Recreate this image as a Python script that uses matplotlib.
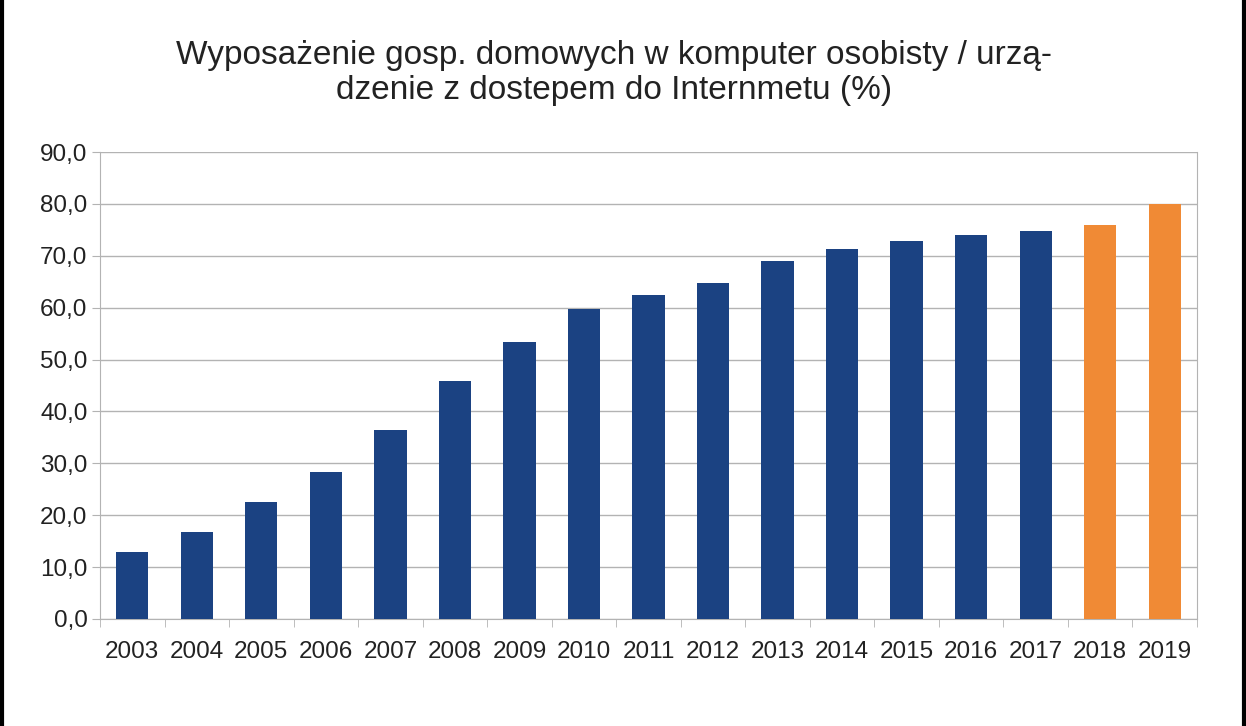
import matplotlib
matplotlib.use("Agg")
import matplotlib.pyplot as plt
import numpy as np

years = [str(y) for y in range(2003, 2020)]
values = [12.9, 16.8, 22.5, 28.3, 36.4, 45.9, 53.4, 59.7, 62.4, 64.7, 69.0, 71.3, 72.8, 74.0, 74.8, 75.9, 80.0]
colors = ["#1b4282"] * 15 + ["#f08a35"] * 2

plt.rcParams["font.family"] = "Liberation Sans"
fig = plt.figure(figsize=(12.46, 7.26), dpi=100)
ax = fig.add_axes([100/1246, 1-619/726, 1097/1246, 467/726])
x = np.arange(len(years))
ax.bar(x, values, width=0.5, color=colors, zorder=3)
ax.set_xlim(-0.5, len(years)-0.5)
ax.set_ylim(0, 90)
ax.set_yticks(np.arange(0, 91, 10))
ax.set_yticklabels([f"{v},0" for v in range(0, 91, 10)], fontsize=17.5, color="#222222")
ax.set_xticks(x)
ax.set_xticklabels(years, fontsize=17.5, color="#222222")
ax.set_xticks(np.arange(-0.5, len(years), 1), minor=True)
ax.tick_params(axis="x", which="major", length=0, pad=16)
ax.tick_params(axis="x", which="minor", length=6, color="#b3b3b3")
ax.tick_params(axis="y", length=6, color="#b3b3b3", pad=3)
ax.grid(axis="y", color="#b3b3b3", linewidth=1, zorder=0)
for s in ax.spines.values():
    s.set_color("#b3b3b3")
ax.spines["top"].set_visible(False)
fig.text(0.493, 1-73/726, "Wyposażenie gosp. domowych w komputer osobisty / urzą-\ndzenie z dostepem do Internmetu (%)",
         ha="center", va="center", fontsize=24, color="#222222", linespacing=1.2)
fig.add_artist(plt.Line2D([2/1246, 2/1246], [0, 1], color="black", linewidth=3, transform=fig.transFigure))
fig.add_artist(plt.Line2D([1244/1246, 1244/1246], [0, 1], color="black", linewidth=3, transform=fig.transFigure))
fig.savefig("out.png", dpi=100)
